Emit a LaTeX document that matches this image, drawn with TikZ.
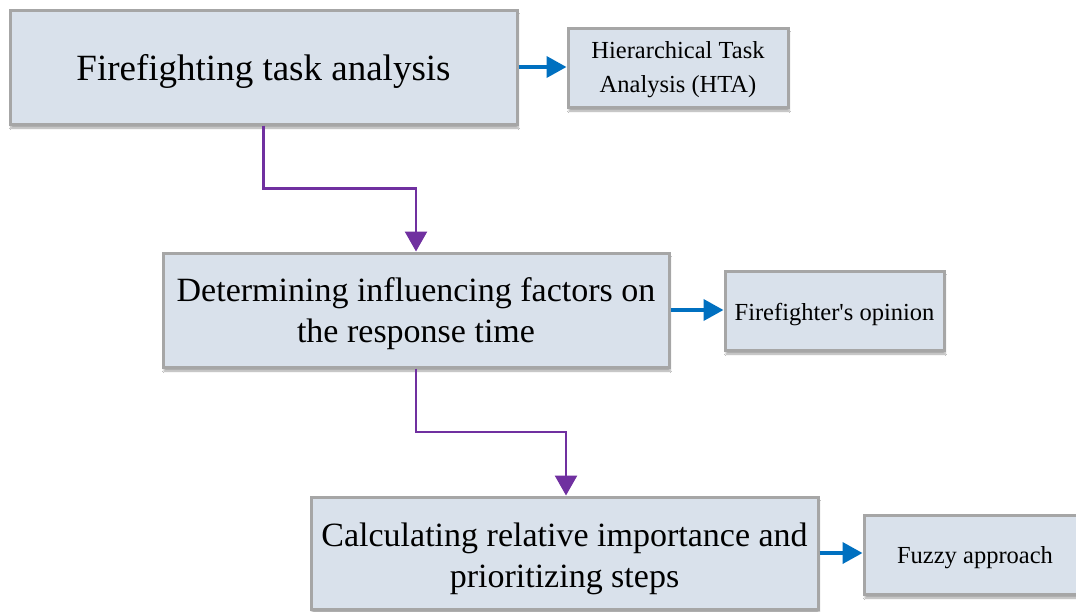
\documentclass[tikz,border=0pt]{standalone}
\usepackage{fontspec}
\setmainfont{Liberation Serif}
\usetikzlibrary{arrows.meta,calc,shadows.blur}
\definecolor{boxfill}{HTML}{D9E1EB}
\definecolor{boxline}{HTML}{A6A6A6}
\definecolor{flowpurple}{HTML}{7030A0}
\definecolor{flowblue}{HTML}{0070C0}
\tikzset{
  mainbox/.style={draw=boxline, line width=3pt, fill=boxfill, align=center, inner sep=0pt,
    blur shadow={shadow xshift=1pt, shadow yshift=-4pt, shadow blur steps=6, shadow opacity=35}},
  boxtext/.style={align=center, inner sep=0pt},
  bigfont/.style={font=\fontsize{37}{44}\selectfont},
  midfont/.style={font=\fontsize{34}{41}\selectfont},
  smallfont/.style={font=\fontsize{24.5}{34}\selectfont},
  mainarrow/.style={draw=flowpurple, line width=2.6pt, -{Triangle[width=22pt,length=20pt]}},
  sidearrow/.style={draw=flowblue, line width=3.8pt, -{Triangle[width=21pt,length=20pt]}},
}
\begin{document}
\begin{tikzpicture}[x=1pt,y=-1pt]
\clip (0,0) rectangle (1076,611);
\fill[white] (0,0) rectangle (1076,611);
\node[mainbox, minimum width=507pt, minimum height=114pt,
  label={[boxtext, bigfont, yshift=-4pt]center:Firefighting task analysis}] (b1) at (263.5,67) {};
\node[mainbox, minimum width=220pt, minimum height=79pt,
  label={[boxtext, smallfont, yshift=-2pt]center:Hierarchical Task\\Analysis (HTA)}] (hta) at (678,67.5) {};
\node[mainbox, minimum width=506pt, minimum height=114pt,
  label={[boxtext, midfont, yshift=-4pt]center:Determining influencing factors on\\the response time}] (b2) at (416,310) {};
\node[mainbox, minimum width=219pt, minimum height=79pt,
  label={[boxtext, smallfont, yshift=-4pt]center:Firefighter\textquotesingle s opinion}] (fo) at (834.5,310.5) {};
\node[mainbox, minimum width=507pt, minimum height=112pt,
  label={[boxtext, midfont, yshift=-6pt]center:Calculating relative importance and\\prioritizing steps}] (b3) at (564.5,553) {};
\node[mainbox, minimum width=222pt, minimum height=79pt,
  label={[boxtext, smallfont, yshift=-3pt]center:Fuzzy approach}] (fz) at (975,554.5) {};
\draw[mainarrow] (b1.south) |- ($(b1.south)!0.5!(b2.north)$) -| (b2.north);
\draw[mainarrow] (b2.south) |- ($(b2.south)!0.5!(b3.north)$) -| ([xshift=1.5pt]b3.north);
\draw[sidearrow] (b1.east) -- (b1.east -| hta.west);
\draw[sidearrow] (b2.east) -- (b2.east -| fo.west);
\draw[sidearrow] (b3.east) -- (b3.east -| fz.west);
\end{tikzpicture}
\end{document}
